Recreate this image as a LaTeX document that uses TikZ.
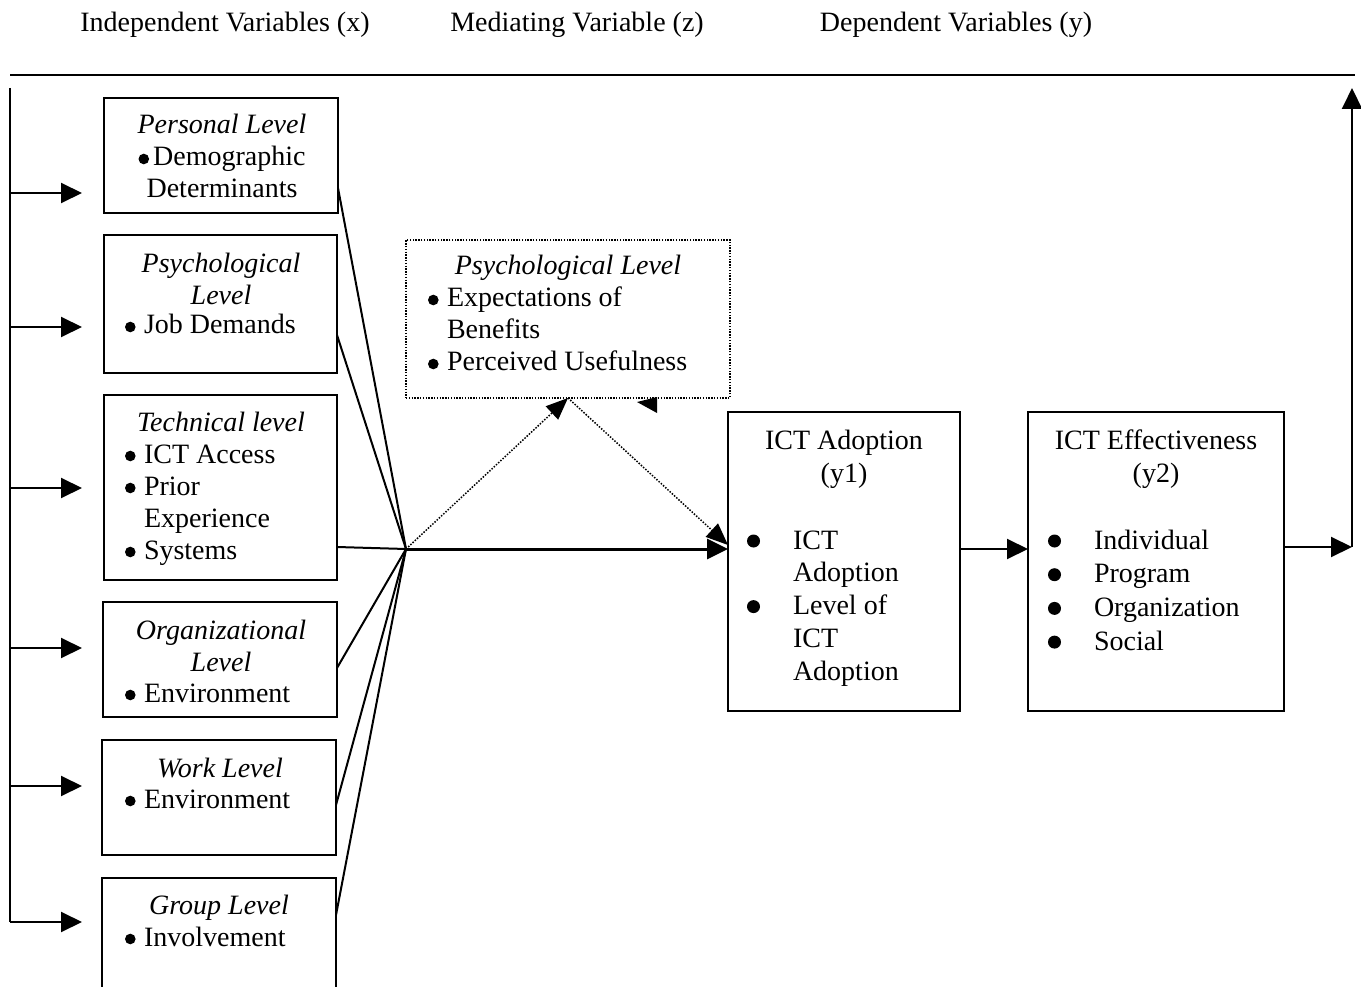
\documentclass[tikz,border=0pt]{standalone}
\usepackage{fontspec}
\setmainfont{Liberation Serif}
\usetikzlibrary{arrows.meta}
% column helpers: first row's baseline is the node's baseline
\newcommand\ColC[1]{\begin{tabular}[t]{@{}c@{}}#1\end{tabular}}
\newcommand\ColL[1]{\begin{tabular}[t]{@{}l@{}}#1\end{tabular}}
% round list bullets
\newcommand\bdot{\tikz[baseline=0pt,x=1pt,y=1pt]\fill (5,7) circle (5.3);}
\newcommand\bigdot{\tikz[baseline=0pt,x=1pt,y=1pt]\fill (6.5,8) circle (6.5);}
\newcommand\bu{\makebox[19pt][l]{\bdot}}
\newcommand\hang{\hspace*{19pt}}
\newcommand\bw{\makebox[46pt][l]{\bigdot}}
\newcommand\hw{\hspace*{46pt}}
\begin{document}
\begin{tikzpicture}[x=1pt,y=-1pt,
  font=\fontsize{28}{32}\selectfont,
  box/.style={draw, line width=2.4pt, inner sep=0pt, outer sep=0pt, anchor=north west},
  dotbox/.style={draw, line width=1.4pt, dash pattern=on 1.4pt off 1.4pt, inner sep=0pt, outer sep=0pt, anchor=north west},
  txt/.style={inner sep=0pt, outer sep=0pt, anchor=base},
  lst/.style={inner sep=0pt, outer sep=0pt, anchor=base west},
  conn/.style={line width=2pt},
  dotl/.style={line width=1.5pt, dash pattern=on 1.5pt off 1.5pt},
  arr/.style={-{Triangle[length=21pt,width=20pt]}}]
\useasboundingbox (0,0) rectangle (1361,987);

% headings and rule
\node[txt] (hx) at (225,32) {Independent Variables (x)};
\node[txt] (hz) at (577,32) {Mediating Variable (z)};
\node[txt] (hy) at (956,32) {Dependent Variables (y)};
\coordinate (ruleL) at (10,75);
\coordinate (ruleR) at (1355,75);
\draw[line width=1.6pt] (ruleL) -- (ruleR);

% independent variable boxes
\node[box, minimum width=234pt, minimum height=115pt] (pers) at (104,98) {};
\node[box, minimum width=233pt, minimum height=138pt] (psy) at (104,235) {};
\node[box, minimum width=233pt, minimum height=185pt] (tech) at (104,395) {};
\node[box, minimum width=234pt, minimum height=115pt] (org) at (103,602) {};
\node[box, minimum width=234pt, minimum height=115pt] (work) at (102,740) {};
\node[box, minimum width=234pt, minimum height=125pt] (grp) at (102,878) {};

\node[txt] (persT) at (222,134) {\ColC{\itshape Personal Level\\\bdot\hspace{4pt}Demographic\\Determinants}};
\node[txt] (psyT) at (221,273) {\ColC{\itshape Psychological\\\itshape Level}};
\node[lst] (psyL) at (125,334) {\ColL{\bu Job Demands}};
\node[txt] (techT) at (221,431) {\itshape Technical level};
\node[lst] (techL) at (125,463) {\ColL{\bu ICT Access\\\bu Prior\\\hang Experience\\\bu Systems}};
\node[txt] (orgT) at (221,639) {\ColC{\itshape Organizational\\\itshape Level}};
\node[lst] (orgL) at (125,702) {\bu Environment};
\node[txt] (workT) at (220,777) {\itshape Work Level};
\node[lst] (workL) at (125,808) {\bu Environment};
\node[txt] (grpT) at (219,914) {\itshape Group Level};
\node[lst] (grpL) at (125,946) {\bu Involvement};

% mediating variable
\node[dotbox, minimum width=324pt, minimum height=158pt] (med) at (406,240) {};
\node[txt] (medT) at (568,275) {\itshape Psychological Level};
\node[lst] (medL) at (428,307) {\ColL{\bu Expectations of\\\hang Benefits\\\bu Perceived Usefulness}};

% dependent variables
\node[box, minimum width=232pt, minimum height=299pt] (adopt) at (728,412) {};
\node[box, minimum width=256pt, minimum height=299pt] (eff) at (1028,412) {};
\node[txt] (adoptT) at (844,449) {\fontsize{28}{33}\selectfont\ColC{ICT Adoption\\(y1)}};
\node[lst] (adoptL) at (747,549) {\fontsize{28}{32.8}\selectfont\ColL{\bw ICT\\\hw Adoption\\\bw Level of\\\hw ICT\\\hw Adoption}};
\node[txt] (effT) at (1156,449) {\fontsize{28}{33}\selectfont\ColC{ICT Effectiveness\\(y2)}};
\node[lst] (effL) at (1048,549) {\fontsize{28}{33.7}\selectfont\ColL{\bw Individual\\\bw Program\\\bw Organization\\\bw Social}};

% feedback line on the left
\coordinate (ltop) at (10,88);
\coordinate (lbot) at (10,922);
\draw[conn] (ltop) -- (lbot);
\coordinate (e1) at (82,193);
\coordinate (e2) at (82,327);
\coordinate (e3) at (82,488);
\coordinate (e4) at (82,648);
\coordinate (e5) at (82,786);
\coordinate (e6) at (82,922);
\foreach \e in {e1,e2,e3,e4,e5,e6}
  \draw[conn, arr] (ltop |- \e) -- (\e);

% converging links
\coordinate (hub) at (406,549);
\draw[conn] (pers.east |- 0,188) -- (hub);
\draw[conn] (psy.east |- 0,335) -- (hub);
\draw[conn] (tech.east |- 0,547) -- (hub);
\draw[conn] (org.east |- 0,668) -- (hub);
\draw[conn] (work.east |- 0,805) -- (hub);
\draw[conn] (grp.east |- 0,915) -- (hub);

\draw[line width=3pt, arr] (hub) -- (adopt.west |- hub);
\draw[dotl, -{Triangle[length=22pt,width=18pt]}] (hub) -- (med.south);
\draw[dotl, -{Triangle[length=22pt,width=18pt]}] (med.south) -- (adopt.west |- 0,545);
\fill (637,402) -- (657,397) -- (657,413) -- cycle;

% outcome links
\draw[conn, arr] (adopt.east |- 0,549) -- (eff.west |- 0,549);
\coordinate (rt) at (1352,547);
\coordinate (rtop) at (1352,88);
\draw[conn, arr] (eff.east |- rt) -- (rt);
\draw[conn, arr] (rt) -- (rtop);
\end{tikzpicture}
\end{document}
